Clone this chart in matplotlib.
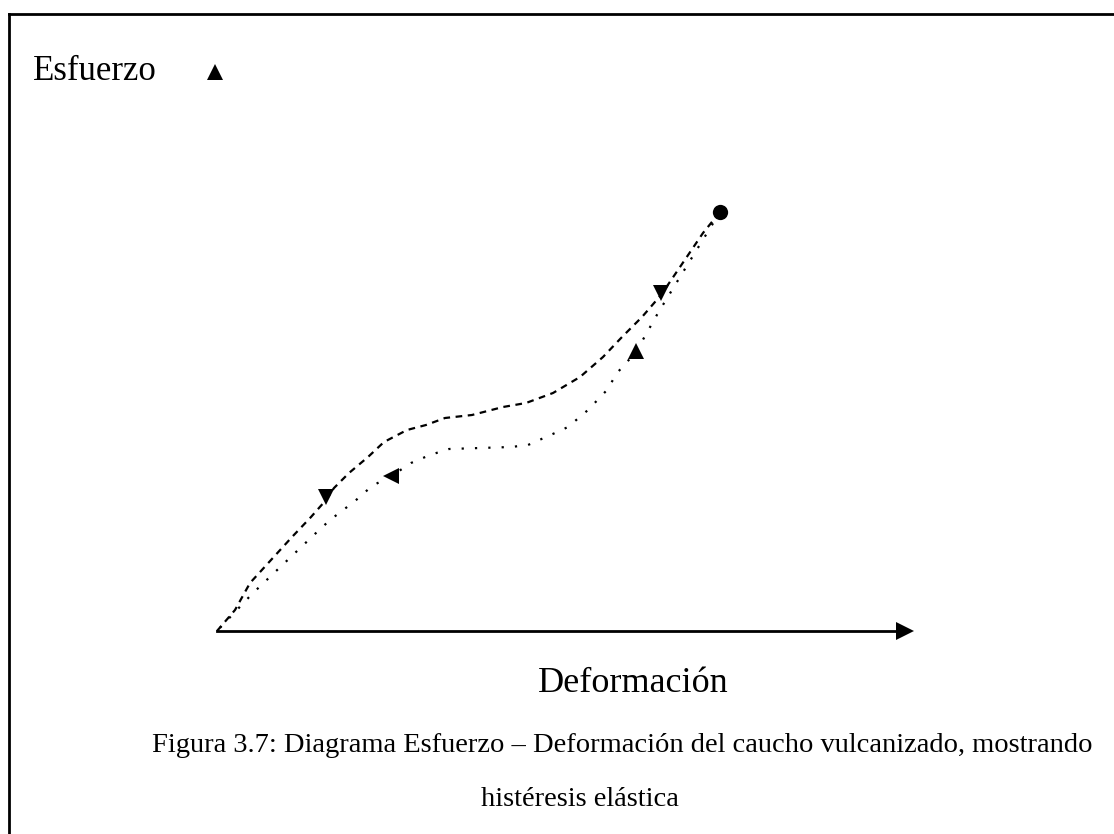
import matplotlib
matplotlib.use("Agg")
import matplotlib.pyplot as plt
from matplotlib.lines import Line2D

plt.rcParams['font.family'] = ['Liberation Serif', 'DejaVu Serif']

# loading curve (deformacion, esfuerzo), arbitrary units
load_x = [0, 0.18, 0.33, 0.75, 0.94, 1.09, 1.17, 1.32, 1.51, 1.67, 1.90, 2.09, 2.28,
          2.55, 2.86, 3.09, 3.36, 3.63, 3.86, 4.05, 4.25, 4.44, 4.63, 4.86, 5.03]
load_y = [0, 0.21, 0.48, 0.94, 1.14, 1.31, 1.43, 1.58, 1.74, 1.89, 2.01, 2.06, 2.13,
          2.16, 2.24, 2.28, 2.38, 2.54, 2.74, 2.94, 3.14, 3.36, 3.64, 3.98, 4.19]

# unloading curve
unload_x = [5.03, 4.63, 4.41, 4.19, 4.00, 3.90, 3.71, 3.51, 3.38, 3.11, 2.94, 2.32,
            2.13, 1.94, 1.76, 1.55, 1.38, 1.13, 1.00, 0.57, 0.35, 0]
unload_y = [4.19, 3.54, 3.18, 2.79, 2.58, 2.41, 2.21, 2.04, 1.98, 1.86, 1.84, 1.82,
            1.76, 1.68, 1.56, 1.45, 1.30, 1.11, 0.99, 0.58, 0.37, 0]

# arrow heads along curves
load_arrows_x = [1.09, 4.44]
load_arrows_y = [1.34, 3.38]
unload_arrows = [(4.19, 2.80, '^'), (1.74, 1.55, '<')]
end_point = (5.03, 4.19)

axis_end = 6.86
y_arrow = (-0.02, 5.59)

caption1 = "Figura 3.7: Diagrama Esfuerzo \u2013 Deformación del caucho vulcanizado, mostrando"
caption2 = "histéresis elástica"

fig = plt.figure(figsize=(11.14, 8.34), dpi=100)
ax = fig.add_axes([0, 0, 1, 1])
ax.set_xlim(-2.17, 8.97)
ax.set_ylim(-2.03, 6.31)
ax.axis('off')

ax.plot(load_x, load_y, color='black', lw=1.6, linestyle=(0, (3, 2.5)))
ax.plot(unload_x, unload_y, color='black', lw=1.6, linestyle=(0, (1, 5)))

ax.plot(load_arrows_x, load_arrows_y, 'v', color='black', ms=12, mew=0)
for x, y, m in unload_arrows:
    ax.plot(x, y, m, color='black', ms=12, mew=0)
ax.plot(*end_point, 'o', color='black', ms=11, mew=0)

# axis
ax.plot([0, axis_end], [0, 0], color='black', lw=2)
ax.plot(axis_end + 0.02, 0, '>', color='black', ms=13, mew=0)
ax.plot(*y_arrow, '^', color='black', ms=11, mew=0)

ax.text(-1.84, 5.59, "Esfuerzo", fontsize=25, va='center', ha='left')
ax.text(4.16, -0.52, "Deformación", fontsize=26, va='center', ha='center')
ax.text(4.05, -1.14, caption1, fontsize=20.5, va='center', ha='center')
ax.text(3.63, -1.69, caption2, fontsize=20.5, va='center', ha='center')

# frame (left and top only)
fig.add_artist(Line2D([9 / 1114, 9 / 1114], [0, 1 - 14 / 834], color='black', lw=2))
fig.add_artist(Line2D([9 / 1114, 1], [1 - 14 / 834, 1 - 14 / 834], color='black', lw=2))

fig.savefig("out.png", dpi=100)
